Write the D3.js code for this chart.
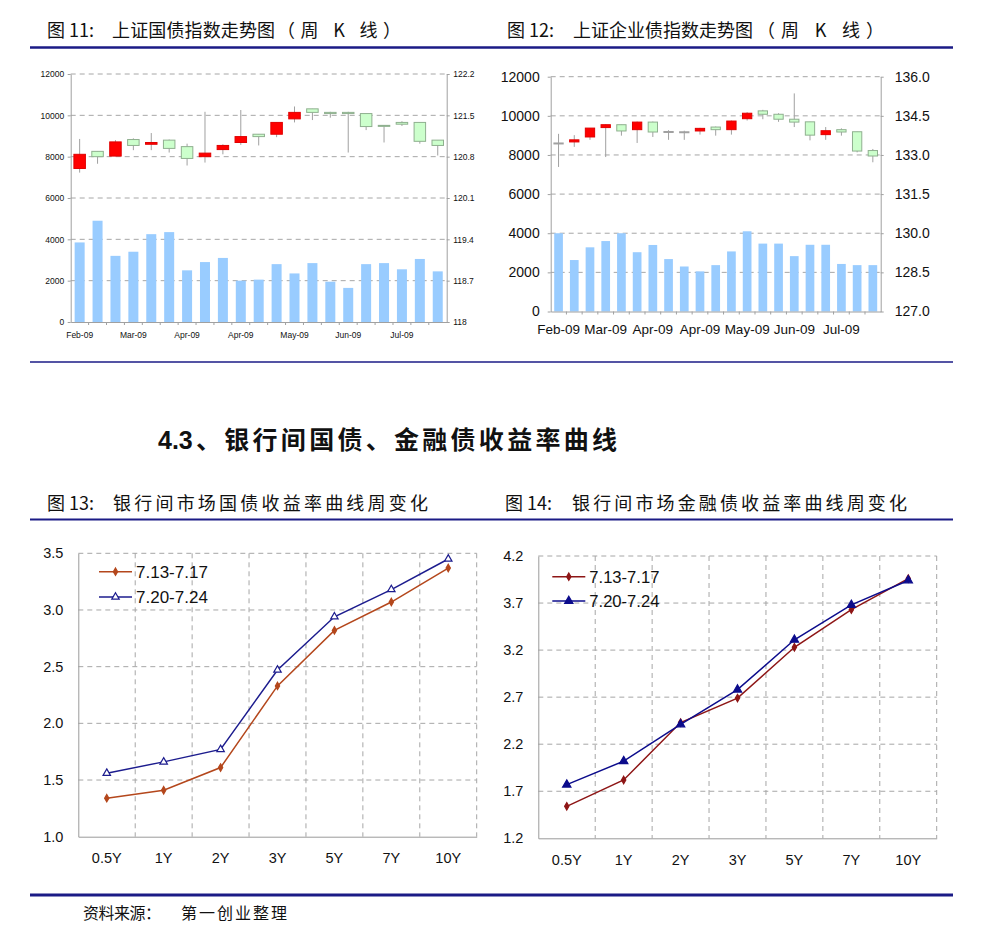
<!DOCTYPE html>
<html><head><meta charset="utf-8">
<script src="https://cdn.jsdelivr.net/npm/d3@7/dist/d3.min.js"></script>
<style>
html,body{margin:0;padding:0;background:#fff;}
svg{display:block;}
</style></head>
<body>
<script>
// ---------- DATA ----------
// Figure 11: 上证国债指数 weekly K-line (right axis) + volume (left axis)
const weekIdx = d3.range(21);
const weekLabels = ["Feb-09","","","Mar-09","","","Apr-09","","","Apr-09","","","May-09","","","Jun-09","","","Jul-09","",""];
const gzOpen  = [120.60,120.89,120.81,121.09,121.01,121.08,120.97,120.80,120.92,121.04,121.18,121.18,121.44,121.61,121.55,121.55,121.53,121.33,121.38,121.38,121.08];
const gzClose = [120.84,120.80,121.05,120.99,121.04,120.94,120.77,120.86,120.99,121.14,121.14,121.38,121.55,121.55,121.53,121.53,121.31,121.32,121.35,121.06,120.99];
const gzHigh  = [121.10,120.89,121.08,121.11,121.20,121.09,121.02,121.56,121.01,121.59,121.18,121.38,121.65,121.61,121.56,121.56,121.53,121.33,121.40,121.38,121.08];
const gzLow   = [120.53,120.68,120.81,120.91,120.91,120.87,120.65,120.70,120.84,121.00,120.99,121.13,121.38,121.42,121.46,120.87,121.25,121.04,121.32,121.02,120.82];
const gzVol   = [3850,4900,3200,3400,4250,4350,2500,2900,3100,2000,2050,2800,2350,2850,1950,1650,2800,2850,2550,3050,2450];
const gzLeftTicks  = [0,2000,4000,6000,8000,10000,12000];
const gzRightTicks = [118,118.7,119.4,120.1,120.8,121.5,122.2];
const gzRightLabels = ["118","118.7","119.4","120.1","120.8","121.5","122.2"];

// Figure 12: 上证企业债指数 weekly K-line + volume
const qzOpen  = [133.46,133.50,133.69,134.05,134.16,133.97,134.26,133.90,133.89,133.92,134.07,133.97,134.39,134.69,134.56,134.37,134.27,133.78,133.97,133.89,133.17];
const qzClose = [133.46,133.58,134.03,134.16,133.92,134.26,133.88,133.90,133.89,134.02,133.97,134.30,134.60,134.56,134.37,134.26,133.76,133.93,133.88,133.15,132.96];
const qzHigh  = [133.81,133.76,134.03,134.18,134.16,134.28,134.28,133.95,133.93,134.04,134.09,134.32,134.64,134.73,134.60,135.36,134.27,134.07,134.02,133.89,133.23];
const qzLow   = [132.54,133.31,133.58,132.92,133.74,133.46,133.69,133.58,133.58,133.78,133.74,133.78,134.32,134.37,134.27,134.07,133.56,133.58,133.74,133.10,132.72];
const qzVol   = [4000,2630,3280,3600,4000,3030,3400,2680,2300,2050,2370,3070,4100,3470,3470,2830,3410,3410,2430,2370,2370];
const qzLeftTicks  = [0,2000,4000,6000,8000,10000,12000];
const qzRightTicks = [127,128.5,130,131.5,133,134.5,136];
const qzRightLabels = ["127.0","128.5","130.0","131.5","133.0","134.5","136.0"];

// Figures 13/14: yield curves
const tenors = ["0.5Y","1Y","2Y","3Y","5Y","7Y","10Y"];
const seriesNames = ["7.13-7.17","7.20-7.24"];
const govA = [1.34,1.41,1.61,2.33,2.82,3.07,3.37];
const govB = [1.56,1.66,1.77,2.47,2.94,3.18,3.45];
const govTicks = [1.0,1.5,2.0,2.5,3.0,3.5];
const finA = [1.54,1.82,2.43,2.69,3.23,3.63,3.96];
const finB = [1.77,2.02,2.41,2.78,3.31,3.68,3.94];
const finTicks = [1.2,1.7,2.2,2.7,3.2,3.7,4.2];

// ---------- DRAW ----------
const W = 984, H = 938;
const NUM = "'Liberation Sans', Arial, sans-serif";
const CJK = "'Noto Sans CJK SC', 'Noto Sans', sans-serif";
const NAVY = "#1b1b86";
const GRID = "#a6a6a6";

const svg = d3.select("body").append("svg").attr("width", W).attr("height", H);
svg.append("rect").attr("width", W).attr("height", H).attr("fill", "#fff");

// Headings & rules
function seg(x, y, txt, size, len, weight, fam) {
  const t = svg.append("text").attr("x", x).attr("y", y).attr("font-family", fam || CJK)
    .attr("font-size", size).attr("font-weight", weight || 400).attr("fill", "#111").text(txt);
  if (len) t.attr("textLength", len).attr("lengthAdjust", "spacing");
}
function rule(y, w) {
  svg.append("line").attr("x1", 30).attr("x2", 953).attr("y1", y).attr("y2", y)
    .attr("stroke", NAVY).attr("stroke-width", w);
}
seg(47, 37, "图 11:", 18);
seg(112, 37, "上证国债指数走势图", 18, 163);
seg(277, 37, "（周 K 线）", 18, 124);
seg(507, 37, "图 12:", 18);
seg(573, 37, "上证企业债指数走势图", 18, 180);
seg(757, 37, "（周 K 线）", 18, 127);
rule(47.5, 2.5);
rule(362, 1.5);
seg(158, 449, "4.3", 25, null, 700, NUM);
seg(196, 449, "、银行间国债、金融债收益率曲线", 25, 421, 700);
seg(47, 510, "图 13:", 18);
seg(113, 510, "银行间市场国债收益率曲线周变化", 18, 315);
seg(505, 510, "图 14:", 18);
seg(572, 510, "银行间市场金融债收益率曲线周变化", 18, 335);
rule(519.5, 2);
rule(895, 3);
seg(83, 919, "资料来源：", 16, 78);
seg(181, 919, "第一创业整理", 16, 106);

// K-line chart
function kline(c) {
  const g = svg.append("g");
  const x = d3.scaleBand().domain(weekIdx).range([c.x0, c.x1]);
  const yL = d3.scaleLinear().domain([0, 12000]).range([c.yB, c.yT]);
  const yR = d3.scaleLinear().domain([c.rTicks[0], c.rTicks[c.rTicks.length - 1]]).range([c.yB, c.yT]);
  g.selectAll(".grid").data(c.lTicks.slice(1)).join("line")
    .attr("x1", c.x0).attr("x2", c.x1).attr("y1", d => yL(d)).attr("y2", d => yL(d))
    .attr("stroke", GRID).attr("stroke-dasharray", "5,4").attr("stroke-width", 1);
  g.selectAll(".bar").data(c.vol).join("rect")
    .attr("x", (d, i) => x(i) + (x.bandwidth() - c.barW) / 2)
    .attr("width", c.barW)
    .attr("y", d => yL(d)).attr("height", d => yL(0) - yL(d))
    .attr("fill", "#99ccff");
  const cx = i => x(i) + x.bandwidth() / 2;
  g.selectAll(".wick").data(weekIdx).join("line")
    .attr("x1", i => cx(i)).attr("x2", i => cx(i))
    .attr("y1", i => yR(c.high[i])).attr("y2", i => yR(c.low[i]))
    .attr("stroke", "#a0a0a0").attr("stroke-width", 1);
  g.selectAll(".body").data(weekIdx).join("rect")
    .attr("x", i => cx(i) - c.bodyW / 2).attr("width", c.bodyW)
    .attr("y", i => yR(Math.max(c.open[i], c.close[i])))
    .attr("height", i => Math.max(1, Math.abs(yR(c.open[i]) - yR(c.close[i]))))
    .attr("fill", i => c.close[i] > c.open[i] ? "#ff0000" : (c.close[i] < c.open[i] ? "#ccffcc" : "none"))
    .attr("stroke", i => c.close[i] > c.open[i] ? "#e00000" : (c.close[i] < c.open[i] ? "#8fb08f" : "#a0a0a0"))
    .attr("stroke-width", 1);
  const ax = g.append("g").attr("transform", `translate(${c.x0},0)`)
    .call(d3.axisLeft(yL).tickValues(c.lTicks).tickFormat(d3.format("d")).tickSize(3).tickSizeOuter(0).tickPadding(c.lPad));
  const axR = g.append("g").attr("transform", `translate(${c.x1},0)`)
    .call(d3.axisRight(yR).tickValues(c.rTicks).tickFormat((d, i) => c.rLabels[i]).tickSize(3).tickSizeOuter(0).tickPadding(c.rPad));
  const axB = g.append("g").attr("transform", `translate(0,${c.yB})`)
    .call(d3.axisBottom(x).tickValues(weekIdx).tickFormat((d, i) => weekLabels[i]).tickSize(0).tickPadding(c.bPad));
  [ax, axR, axB].forEach(a => {
    a.selectAll("path.domain").attr("stroke", "#a0a0a0");
    a.selectAll(".tick line").attr("stroke", "#a0a0a0");
    a.selectAll("text").attr("font-family", NUM).attr("fill", "#111");
  });
  ax.selectAll("text").attr("font-size", c.fs);
  axR.selectAll("text").attr("font-size", c.fs);
  axB.selectAll("text").attr("font-size", c.fsX);
  g.selectAll(".bt").data(d3.range(1, 21)).join("line")
    .attr("x1", i => x(i)).attr("x2", i => x(i)).attr("y1", c.yB).attr("y2", c.yB + 3)
    .attr("stroke", "#a0a0a0");
}

kline({x0: 70.7, x1: 446.7, yT: 74, yB: 322, open: gzOpen, close: gzClose, high: gzHigh, low: gzLow,
  vol: gzVol, lTicks: gzLeftTicks, rTicks: gzRightTicks, rLabels: gzRightLabels,
  barW: 10, bodyW: 11.5, fs: 8.5, fsX: 8.5, lPad: 3.5, rPad: 3.5, bPad: 10});
kline({x0: 550.7, x1: 880.7, yT: 76.7, yB: 311.5, open: qzOpen, close: qzClose, high: qzHigh, low: qzLow,
  vol: qzVol, lTicks: qzLeftTicks, rTicks: qzRightTicks, rLabels: qzRightLabels,
  barW: 8.7, bodyW: 9.3, fs: 14, fsX: 13.5, lPad: 8, rPad: 11, bPad: 13});

// Yield curve chart
function curve(c) {
  const g = svg.append("g");
  const x = d3.scaleBand().domain(tenors).range([c.x0, c.x1]);
  const y = d3.scaleLinear().domain([c.ticks[0], c.ticks[c.ticks.length - 1]]).range([c.yB, c.yT]);
  g.selectAll(".hg").data(c.ticks.slice(1)).join("line")
    .attr("x1", c.x0).attr("x2", c.x1).attr("y1", d => y(d)).attr("y2", d => y(d))
    .attr("stroke", GRID).attr("stroke-dasharray", "5,4");
  g.selectAll(".vg").data(tenors.slice(1).concat(["__end"])).join("line")
    .attr("x1", d => d === "__end" ? c.x1 : x(d)).attr("x2", d => d === "__end" ? c.x1 : x(d))
    .attr("y1", c.yT).attr("y2", c.yB)
    .attr("stroke", GRID).attr("stroke-dasharray", "5,4");
  const ax = g.append("g").attr("transform", `translate(${c.x0},0)`)
    .call(d3.axisLeft(y).tickValues(c.ticks).tickFormat(d3.format(".1f")).tickSize(0).tickSizeOuter(0).tickPadding(15));
  const axB = g.append("g").attr("transform", `translate(0,${c.yB})`)
    .call(d3.axisBottom(x).tickSize(0).tickSizeOuter(0).tickPadding(16));
  [ax, axB].forEach(a => {
    a.selectAll("path.domain").attr("stroke", "#9a9a9a");
    a.selectAll("text").attr("font-family", NUM).attr("font-size", 14.5).attr("fill", "#111");
  });
  const cx = d => x(d) + x.bandwidth() / 2;
  const line = d3.line().x((d, i) => cx(tenors[i])).y(d => y(d));
  const series = [
    {vals: c.a, color: c.colA, sym: d3.symbolDiamond, size: 16, fill: c.colA},
    {vals: c.b, color: c.colB, sym: d3.symbolTriangle, size: c.openTri ? 24 : 30, fill: c.openTri ? "#fff" : c.colB}
  ];
  series.forEach((s, k) => {
    g.append("path").datum(s.vals).attr("d", line).attr("fill", "none")
      .attr("stroke", s.color).attr("stroke-width", 1.5);
    g.selectAll(".m" + k).data(s.vals).join("path")
      .attr("d", d3.symbol().type(s.sym).size(s.size))
      .attr("transform", (d, i) => `translate(${cx(tenors[i])},${y(d)})`)
      .attr("fill", s.fill).attr("stroke", s.color).attr("stroke-width", 1.2);
    const ly = c.legY[k];
    g.append("line").attr("x1", c.legX).attr("x2", c.legX + 33).attr("y1", ly).attr("y2", ly)
      .attr("stroke", s.color).attr("stroke-width", 1.5);
    g.append("path").attr("d", d3.symbol().type(s.sym).size(s.size))
      .attr("transform", `translate(${c.legX + 16.5},${ly})`)
      .attr("fill", s.fill).attr("stroke", s.color).attr("stroke-width", 1.2);
    g.append("text").attr("x", c.legX + 37).attr("y", ly + 6).attr("font-family", NUM)
      .attr("font-size", c.legFs).attr("fill", "#111").text(seriesNames[k]);
  });
}

curve({x0: 78.3, x1: 476.7, yT: 553.3, yB: 836.7, ticks: govTicks, a: govA, b: govB,
  colA: "#b4471c", colB: "#1c1c8e", openTri: true, legX: 99, legY: [571.7, 597], legFs: 17});
curve({x0: 538.3, x1: 936.7, yT: 556, yB: 838.3, ticks: finTicks, a: finA, b: finB,
  colA: "#8e1616", colB: "#0c0c8c", openTri: false, legX: 552.3, legY: [576.7, 601], legFs: 16.6});
</script>
</body></html>
